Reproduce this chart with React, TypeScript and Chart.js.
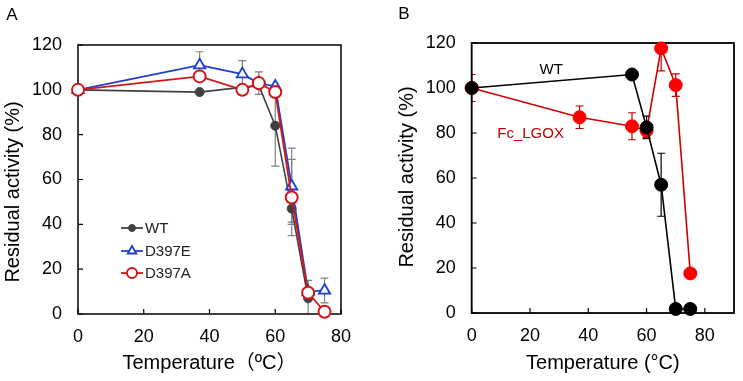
import React, { useEffect, useRef } from "react";
import { Chart, registerables } from "chart.js";
Chart.register(...registerables);

const FONT = '"Liberation Sans", Arial, "Noto Sans CJK JP", sans-serif';

// ---------- Panel A data ----------
const A_WT_X = [0, 37, 55, 60, 65, 70];
const A_WT_Y = [100, 99, 102, 84, 47, 7];
const A_WT_ERR = [0, 0, 0, 18, 6, 8];

const A_E_X = [0, 37, 50, 55, 60, 65, 70, 75];
const A_E_Y = [100, 111, 107, 103, 101.5, 57, 10, 10.5];
const A_E_ERR = [0, 6, 6, 0, 0, 17, 0, 5.5];

const A_A_X = [0, 37, 50, 55, 60, 65, 70, 75];
const A_A_Y = [100, 106, 100, 103, 99, 52, 9.5, 1];
const A_A_ERR = [0, 0, 0, 5, 0, 17, 0, 0];

const A_LEGEND = ["WT", "D397E", "D397A"];

// ---------- Panel B data ----------
const B_WT_X = [0, 55, 60, 65, 70, 75];
const B_WT_Y = [100, 106, 82.5, 57, 1.8, 1.8];
const B_WT_ERR = [0, 0, 5, 14, 0, 0];

const B_FC_X = [0, 37, 55, 60, 65, 70, 75];
const B_FC_Y = [100, 87, 83, 81, 117.6, 101.3, 17.6];
const B_FC_ERR = [6, 5, 6, 3, 10, 5, 0];

const B_LABELS = ["WT", "Fc_LGOX"];

// ---------- axes ----------
const X_TICKS = [0, 20, 40, 60, 80];
const Y_TICKS = [0, 20, 40, 60, 80, 100, 120];
const Y_TITLE = "Residual activity (%)";
const A_X_TITLE = "Temperature（ºC）";
const B_X_TITLE = "Temperature (°C)";

const pts = (xs: number[], ys: number[]) => xs.map((x, i) => ({ x, y: ys[i] }));

function drawMarker(ctx: CanvasRenderingContext2D, style: string, x: number, y: number, r: number, fill: string, stroke: string, lw: number) {
  ctx.save();
  ctx.beginPath();
  if (style === "triangle") {
    ctx.moveTo(x, y - r);
    ctx.lineTo(x + 0.866 * r, y + 0.5 * r);
    ctx.lineTo(x - 0.866 * r, y + 0.5 * r);
    ctx.closePath();
  } else {
    ctx.arc(x, y, r, 0, Math.PI * 2);
  }
  ctx.fillStyle = fill;
  ctx.fill();
  ctx.lineWidth = lw;
  ctx.strokeStyle = stroke;
  ctx.stroke();
  ctx.restore();
}

// frame + inward ticks + error bars (behind datasets)
const framePlugin = {
  id: "frameTicksErr",
  beforeDatasetsDraw(chart: any, _args: any, opts: any) {
    const { ctx, chartArea: ca } = chart;
    const xs = chart.scales.x;
    const ys = chart.scales.y;
    ctx.save();
    // error bars
    ctx.beginPath();
    ctx.rect(ca.left, ca.top, ca.right - ca.left, ca.bottom - ca.top);
    ctx.clip();
    chart.data.datasets.forEach((ds: any, di: number) => {
      if (!ds.errors) return;
      ctx.strokeStyle = ds.errColor;
      ctx.lineWidth = 1.2;
      ds.data.forEach((p: any, i: number) => {
        const e = ds.errors[i];
        if (!e) return;
        const px = xs.getPixelForValue(p.x);
        const top = ys.getPixelForValue(p.y + e);
        const bot = ys.getPixelForValue(p.y - e);
        ctx.beginPath();
        ctx.moveTo(px, top);
        ctx.lineTo(px, bot);
        ctx.moveTo(px - 4, top);
        ctx.lineTo(px + 4, top);
        ctx.moveTo(px - 4, bot);
        ctx.lineTo(px + 4, bot);
        ctx.stroke();
      });
    });
    ctx.restore();
    ctx.save();
    ctx.strokeStyle = "#000";
    ctx.lineWidth = opts.lw || 1.5;
    ctx.strokeRect(ca.left, ca.top, ca.right - ca.left, ca.bottom - ca.top);
    ctx.lineWidth = 1.2;
    ctx.beginPath();
    xs.ticks.forEach((t: any) => {
      const px = xs.getPixelForValue(t.value);
      ctx.moveTo(px, ca.bottom);
      ctx.lineTo(px, ca.bottom - 5);
    });
    ys.ticks.forEach((t: any) => {
      const py = ys.getPixelForValue(t.value);
      ctx.moveTo(ca.left, py);
      ctx.lineTo(ca.left + 5, py);
    });
    ctx.stroke();
    ctx.restore();
  },
};

// texts: panel letter, y title, legend / labels
const textPlugin = {
  id: "texts",
  afterDraw(chart: any, _args: any, opts: any) {
    const { ctx } = chart;
    ctx.save();
    ctx.fillStyle = "#000";
    ctx.textBaseline = "middle";
    ctx.textAlign = "center";
    ctx.font = `17px ${FONT}`;
    ctx.fillText(opts.letter, opts.letterX, opts.letterY);
    ctx.save();
    ctx.translate(opts.titleX, opts.titleY);
    ctx.rotate(-Math.PI / 2);
    ctx.font = `20px ${FONT}`;
    ctx.fillText(Y_TITLE, 0, 0);
    ctx.restore();
    if (opts.legend) {
      ctx.font = `15px ${FONT}`;
      ctx.textAlign = "left";
      chart.data.datasets.forEach((ds: any, i: number) => {
        const y = opts.legendY[i];
        ctx.strokeStyle = ds.borderColor;
        ctx.lineWidth = 1.8;
        ctx.beginPath();
        ctx.moveTo(121, y);
        ctx.lineTo(143, y);
        ctx.stroke();
        drawMarker(ctx, ds.pointStyle, 132, y, ds.legendR, ds.pointBackgroundColor, ds.pointBorderColor, ds.pointBorderWidth);
        ctx.fillStyle = "#222";
        ctx.fillText(A_LEGEND[i], 145, y + 1);
      });
    }
    if (opts.labels) {
      const xs = chart.scales.x;
      const ys = chart.scales.y;
      ctx.font = `15px ${FONT}`;
      ctx.textAlign = "center";
      opts.labels.forEach((l: any, i: number) => {
        ctx.fillStyle = l.color;
        ctx.fillText(B_LABELS[i], xs.getPixelForValue(l.x), ys.getPixelForValue(l.y));
      });
    }
    ctx.restore();
  },
};

function makeScales(xMax: number, yWidth: number, xHeight: number, xTitle: string) {
  return {
    x: {
      type: "linear",
      min: 0,
      max: xMax,
      afterBuildTicks: (s: any) => {
        s.ticks = X_TICKS.map((v) => ({ value: v }));
      },
      afterFit: (s: any) => {
        s.height = xHeight;
      },
      grid: { display: false, drawTicks: false },
      border: { display: false },
      ticks: { padding: 12, color: "#000", font: { size: 18, family: FONT }, maxRotation: 0 },
      title: {
        display: true,
        text: xTitle,
        color: "#000",
        font: { size: 20, family: FONT },
        padding: { top: 0, bottom: 6 },
      },
    },
    y: {
      type: "linear",
      min: 0,
      max: 120,
      afterBuildTicks: (s: any) => {
        s.ticks = Y_TICKS.map((v) => ({ value: v }));
      },
      afterFit: (s: any) => {
        s.width = yWidth;
      },
      grid: { display: false, drawTicks: false },
      border: { display: false },
      ticks: { padding: 16, color: "#000", font: { size: 18, family: FONT } },
    },
  };
}

function PanelA() {
  const ref = useRef<HTMLCanvasElement>(null);
  useEffect(() => {
    const chart = new Chart(ref.current as HTMLCanvasElement, {
      type: "line",
      data: {
        datasets: [
          {
            label: "WT",
            data: pts(A_WT_X, A_WT_Y),
            errors: A_WT_ERR,
            errColor: "#808080",
            borderColor: "#404040",
            borderWidth: 1.6,
            pointStyle: "circle",
            pointRadius: 4.5,
            pointBackgroundColor: "#404040",
            pointBorderColor: "#404040",
            pointBorderWidth: 1,
            legendR: 3.5,
            order: 3,
            clip: 8,
          },
          {
            label: "D397E",
            data: pts(A_E_X, A_E_Y),
            errors: A_E_ERR,
            errColor: "#808080",
            borderColor: "#1f3fcc",
            borderWidth: 1.8,
            pointStyle: "triangle",
            pointRadius: 6.5,
            pointBackgroundColor: "#fff",
            pointBorderColor: "#1f3fcc",
            pointBorderWidth: 1.8,
            legendR: 5,
            order: 2,
            clip: 8,
          },
          {
            label: "D397A",
            data: pts(A_A_X, A_A_Y),
            errors: A_A_ERR,
            errColor: "#808080",
            borderColor: "#d01818",
            borderWidth: 1.8,
            pointStyle: "circle",
            pointRadius: 6,
            pointBackgroundColor: "#fff",
            pointBorderColor: "#d01818",
            pointBorderWidth: 2,
            legendR: 5,
            order: 1,
            clip: 8,
          },
        ] as any,
      },
      options: {
        animation: false,
        responsive: false,
        devicePixelRatio: 1,
        layout: { padding: { left: 0, right: 29, top: 45, bottom: 0 } },
        plugins: {
          legend: { display: false },
          tooltip: { enabled: false },
          frameTicksErr: { lw: 1.5 },
          texts: {
            letter: "A",
            letterX: 12,
            letterY: 15,
            titleX: 13,
            titleY: 192,
            legend: true,
            legendY: [228, 251, 273],
          },
        } as any,
        scales: makeScales(80, 78, 67, A_X_TITLE) as any,
      },
      plugins: [framePlugin, textPlugin],
    });
    return () => chart.destroy();
  }, []);
  return <canvas ref={ref} width={370} height={381} style={{ position: "absolute", left: 0, top: 0 }} />;
}

function PanelB() {
  const ref = useRef<HTMLCanvasElement>(null);
  useEffect(() => {
    const chart = new Chart(ref.current as HTMLCanvasElement, {
      type: "line",
      data: {
        datasets: [
          {
            label: "WT",
            data: pts(B_WT_X, B_WT_Y),
            errors: B_WT_ERR,
            errColor: "#000",
            borderColor: "#000",
            borderWidth: 1.6,
            pointStyle: "circle",
            pointRadius: 6.5,
            pointBackgroundColor: "#000",
            pointBorderColor: "#000",
            pointBorderWidth: 1,
            order: 1,
            clip: 8,
          },
          {
            label: "Fc_LGOX",
            data: pts(B_FC_X, B_FC_Y),
            errors: B_FC_ERR,
            errColor: "#c00000",
            borderColor: "#d00000",
            borderWidth: 1.6,
            pointStyle: "circle",
            pointRadius: 6.5,
            pointBackgroundColor: "#ff0000",
            pointBorderColor: "#ff0000",
            pointBorderWidth: 1,
            order: 2,
            clip: 8,
          },
        ] as any,
      },
      options: {
        animation: false,
        responsive: false,
        devicePixelRatio: 1,
        layout: { padding: { left: 0, right: 9, top: 43, bottom: 0 } },
        plugins: {
          legend: { display: false },
          tooltip: { enabled: false },
          frameTicksErr: { lw: 1.8 },
          texts: {
            letter: "B",
            letterX: 34,
            letterY: 14,
            titleX: 37,
            titleY: 177,
            legend: false,
            labels: [
              { x: 27.3, y: 108, color: "#000" },
              { x: 20.2, y: 79.6, color: "#c00000" },
            ],
          },
        } as any,
        scales: makeScales(90, 101.7, 68, B_X_TITLE) as any,
      },
      plugins: [framePlugin, textPlugin],
    });
    return () => chart.destroy();
  }, []);
  return <canvas ref={ref} width={373} height={381} style={{ position: "absolute", left: 370, top: 0 }} />;
}

export default function App() {
  return (
    <div style={{ position: "absolute", left: 0, top: 0, width: 743, height: 381, background: "#fff" }}>
      <PanelA />
      <PanelB />
    </div>
  );
}
